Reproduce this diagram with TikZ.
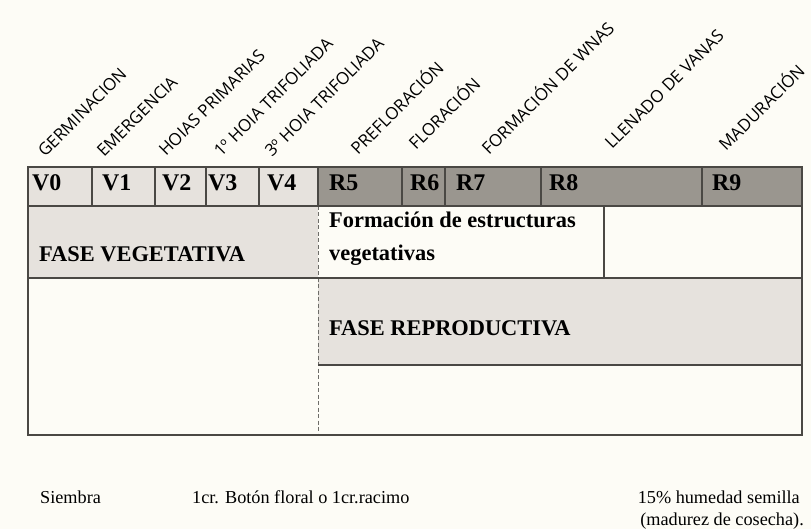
\documentclass[tikz,border=0pt]{standalone}
\usepackage{fontspec}
\setmainfont{Liberation Serif}
\newfontfamily\lab{Open Sans}
\definecolor{bg}{HTML}{FDFCF6}
\definecolor{lightg}{HTML}{E6E2DD}
\definecolor{darkg}{HTML}{9A968F}
\definecolor{ln}{HTML}{4A4844}
\begin{document}
\begin{tikzpicture}[x=1bp,y=-1bp,
  cellline/.style={draw=ln, line width=1.4bp},
  dashline/.style={draw=ln!80, line width=1bp, dashed, dash pattern=on 4bp off 2.5bp},
  hdr/.style={font=\fontsize{24}{26}\selectfont\bfseries, anchor=base west, inner sep=0},
  body/.style={font=\fontsize{22.5}{24}\selectfont\bfseries, anchor=base west, inner sep=0},
  lbl/.style={font=\lab\fontsize{17}{19}\selectfont, anchor=base west, inner sep=0, rotate=45},
  foot/.style={font=\fontsize{18.3}{20}\selectfont, inner sep=0}]
\fill[bg] (0,0) rectangle (811,529);
\useasboundingbox (0,0) rectangle (811,529);
% fills
\fill[lightg] (28,167) rectangle (318,206);
\fill[darkg] (318,167) rectangle (802,206);
\fill[lightg] (28,206) rectangle (318,278);
\fill[lightg] (318,278) rectangle (802,365);
% dashed divider
\draw[dashline] (318,206) -- (318,435);
% grid lines
\draw[cellline] (28,206) -- (802,206);
\draw[cellline] (28,278) -- (802,278);
\draw[cellline] (318,365) -- (802,365);
\draw[cellline] (604,206) -- (604,278);
\foreach \x in {92,155,206,259,318,402,445,541,702}
  \draw[cellline] (\x,167) -- (\x,206);
\draw[cellline] (28,167) rectangle (802,435);
% header texts
\node[hdr] (v0) at (32,191) {V0};
\node[hdr] (v1) at (102,191) {V1};
\node[hdr] (v2) at (162,191) {V2};
\node[hdr] (v3) at (208,191) {V3};
\node[hdr] (v4) at (267,191) {V4};
\node[hdr] (r5) at (329,191) {R5};
\node[hdr] (r6) at (410,191) {R6};
\node[hdr] (r7) at (456,191) {R7};
\node[hdr] (r8) at (549,191) {R8};
\node[hdr] (r9) at (712,191) {R9};
% body texts
\node[body] (fv) at (39,262) {FASE VEGETATIVA};
\node[body] (fe1) at (329,228) {Formación de estructuras};
\node[body] (fe2) at (329,261) {vegetativas};
\node[body] (fr) at (329,335) {FASE REPRODUCTIVA};
% rotated labels
\node[lbl] (l0) at (45,158) {GERMINACION};
\node[lbl] (l1) at (104,158) {EMERGENCIA};
\node[lbl] (l2) at (166,157) {HOIAS PRIMARIAS};
\node[lbl] (l3) at (221,158) {1º HOIA TRIFOLIADA};
\node[lbl] (l4) at (272,158) {3º HOIA TRIFOLIADA};
\node[lbl] (l5) at (358,156) {PREFLORACIÓN};
\node[lbl] (l6) at (416,151) {FLORACIÓN};
\node[lbl] (l7) at (489,156) {FORMACIÓN DE WNAS};
\node[lbl] (l8) at (612,150) {LLENADO DE VANAS};
\node[lbl] (l9) at (726,152) {MADURACIÓN};
% footer
\node[foot, anchor=base west] (s) at (40,503) {Siembra};
\node[foot, anchor=base west] (b) at (192,503) {1cr. Botón floral o 1cr.racimo};
\node[foot, anchor=base east] (h1) at (800,503) {15\% humedad semilla};
\node[foot, anchor=base east] (h2) at (804,525) {(madurez de cosecha).};
\end{tikzpicture}
\end{document}
